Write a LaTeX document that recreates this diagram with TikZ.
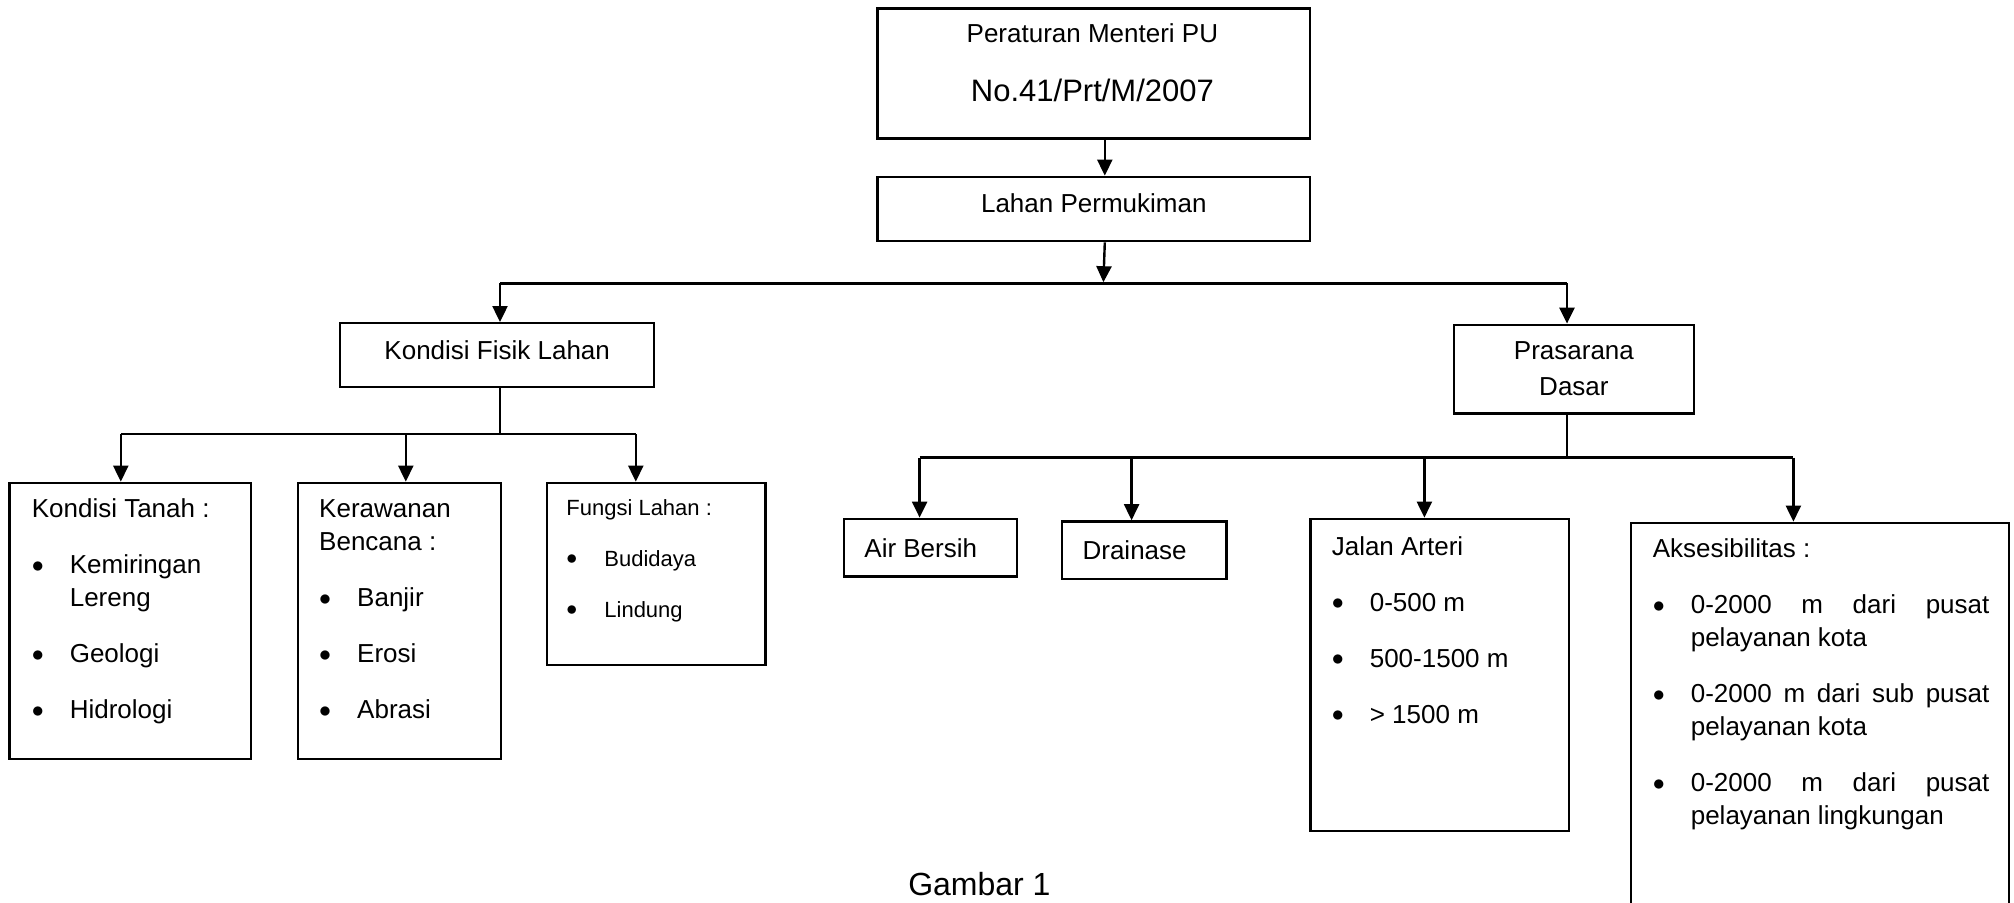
\documentclass[tikz,border=0pt]{standalone}
\usepackage{fontspec}
\setmainfont{Liberation Sans}
\usepackage{tikz}
\usetikzlibrary{arrows.meta}

\newlength{\jarakbutir}
\setlength{\jarakbutir}{11.5pt}
\newcommand{\butir}[1]{\par\vspace{\jarakbutir}\hangindent=19pt\hangafter=1\noindent\makebox[19pt][l]{\raisebox{0.8pt}{$\bullet$}}#1}
\hyphenpenalty=10000
\exhyphenpenalty=10000

\begin{document}
\begin{tikzpicture}[x=1pt, y=-1pt, line width=1.2pt,
  every node/.style={font=\fontsize{13pt}{16.5pt}\selectfont},
  kotak/.style={draw, rectangle, anchor=north west, inner sep=0pt},
  teks/.style={anchor=base west, inner sep=0pt, align=flush left},
  garis/.style={line width=1.2pt},
  panah/.style={line width=1.2pt, -{Triangle[width=7.5pt, length=8pt]}}]
%% batas gambar
\useasboundingbox (0,0) rectangle (1007,451);
\clip (0,0) rectangle (1007,451);

%% tingkat atas
\node[kotak, minimum width=216.2pt, minimum height=65pt] (aturan) at (438.2,3.7) {};
\node[align=center, inner sep=0pt] (aturanteks) at (546.2,31.6) {Peraturan Menteri PU\\[13pt]{\fontsize{15.5pt}{18.6pt}\selectfont No.41/Prt/M/2007}};
\node[kotak, minimum width=216.2pt, minimum height=32.2pt, text depth=6.2pt] (lahan) at (438.2,87.8) {Lahan Permukiman};
\draw[panah] ([xshift=5.5pt]aturan.south) -- ([xshift=5.5pt]lahan.north);
\coordinate (bagi) at (551.7,141.1);
\draw[panah] ([xshift=5.5pt]lahan.south) -- (bagi);

%% cabang pertama
\node[kotak, minimum width=157pt, minimum height=32pt, text depth=5.6pt] (fisik) at (169.5,161) {Kondisi Fisik Lahan};
\node[kotak, minimum width=120.1pt, minimum height=44.3pt, align=center] (prasarana) at (726.3,161.8) {Prasarana\\[1.5pt]Dasar};
\coordinate (bagikiri) at (250,141.7);
\coordinate (bagikanan) at (783.5,141.7);
\draw[garis] (bagikiri) -- (bagikanan);
\draw[panah] (bagikiri) -- (bagikiri |- fisik.north);
\draw[panah] (bagikanan) -- (bagikanan |- prasarana.north);

%% kondisi fisik lahan
\coordinate (fisikbawah) at (250,217.1);
\coordinate (fisikkiri) at (60.4,217.1);
\coordinate (fisiktengah) at (202.9,217.1);
\coordinate (fisikkanan) at (317.9,217.1);
\draw[garis] (fisikbawah |- fisik.south) -- (fisikbawah);
\draw[garis] (fisikkiri) -- (fisikkanan);
\node[kotak, minimum width=120.8pt, minimum height=138.2pt] (tanah) at (4.2,240.8) {};
\node[kotak, minimum width=101.5pt, minimum height=138.2pt] (rawan) at (148.3,240.8) {};
\node[kotak, minimum width=109.2pt, minimum height=91.2pt] (fungsi) at (272.9,240.8) {};
\draw[panah] (fisikkiri) -- (fisikkiri |- tanah.north);
\draw[panah] (fisiktengah) -- (fisiktengah |- rawan.north);
\draw[panah] (fisikkanan) -- (fisikkanan |- fungsi.north);
\node[teks, text width=105pt] (tanahisi) at ([xshift=11.1pt, yshift=-18pt]tanah.north west) {Kondisi Tanah :\butir{Kemiringan Lereng}\butir{Geologi}\butir{Hidrologi}\par};
\node[teks, text width=82pt] (rawanisi) at ([xshift=10.7pt, yshift=-18pt]rawan.north west) {Kerawanan Bencana :\butir{Banjir}\butir{Erosi}\butir{Abrasi}\par};
\node[teks, text width=90pt, font=\fontsize{11pt}{14pt}\selectfont] (fungsiisi) at ([xshift=9.7pt, yshift=-16.8pt]fungsi.north west) {Fungsi Lahan :\butir{Budidaya}\butir{Lindung}\par};

%% prasarana dasar
\coordinate (dasarbawah) at (783.5,228.8);
\coordinate (dasarkiri) at (459.8,228.8);
\coordinate (dasardua) at (565.8,228.8);
\coordinate (dasartiga) at (712.2,228.8);
\coordinate (dasarkanan) at (896.7,228.8);
\draw[garis] (dasarbawah |- prasarana.south) -- (dasarbawah);
\draw[garis] (dasarkiri) -- (dasarkanan);
\node[kotak, minimum height=28.9pt, text width=66.1pt, inner xsep=10.3pt, align=flush left] (air) at (421.3,258.8) {Air Bersih};
\node[kotak, minimum height=28.9pt, text width=61.8pt, inner xsep=10.2pt, align=flush left] (drainase) at (530.5,260.1) {Drainase};
\node[kotak, minimum width=129.1pt, minimum height=156.2pt] (jalan) at (654.7,258.8) {};
\node[kotak, minimum width=189pt, minimum height=200pt] (akses) at (815,260.8) {};
\draw[panah] (dasarkiri) -- (dasarkiri |- air.north);
\draw[panah] (dasardua) -- (dasardua |- drainase.north);
\draw[panah] (dasartiga) -- (dasartiga |- jalan.north);
\draw[panah] (dasarkanan) -- (dasarkanan |- akses.north);
\node[teks, text width=110pt] (jalanisi) at ([xshift=10.6pt, yshift=-18.7pt]jalan.north west) {Jalan Arteri\butir{0-500 m}\butir{500-1500 m}\butir{> 1500 m}\par};
\node[teks, text width=168.3pt, align=justify] (aksesisi) at ([xshift=10.8pt, yshift=-18pt]akses.north west) {Aksesibilitas :\butir{0-2000 m dari pusat\linebreak pelayanan kota}\butir{0-2000 m dari sub pusat\linebreak pelayanan kota}\butir{0-2000 m dari pusat\linebreak pelayanan lingkungan}\par};

\node[font=\fontsize{16pt}{19pt}\selectfont] (judul) at (489.7,441.8) {Gambar 1};
\end{tikzpicture}
\end{document}
